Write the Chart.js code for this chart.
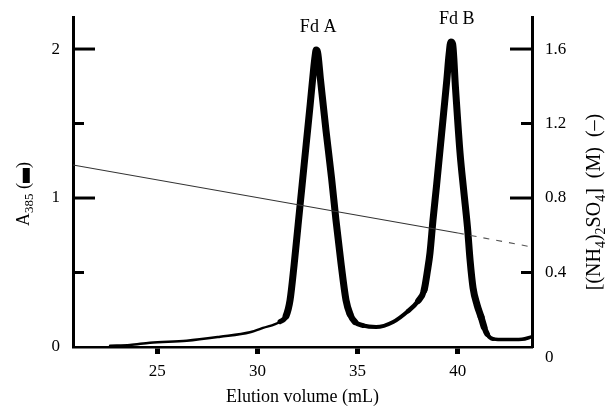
<!DOCTYPE html>
<html>
<head>
<meta charset="utf-8">
<script src="https://cdn.jsdelivr.net/npm/chart.js@4.4.1/dist/chart.umd.min.js"></script>
<style>
  html, body { margin: 0; padding: 0; background: #fff; }
  #wrap { width: 609px; height: 407px; position: relative; }
</style>
</head>
<body>
<div id="wrap"><canvas id="chart"></canvas></div>
<script>
// A385 elution profile
const elutionVolume = [22.65, 23.64, 24.64, 26.47, 28.14, 29.63, 30.28, 31.13, 31.43, 31.63,
    31.83, 32.03, 32.23, 32.43, 32.63, 32.80, 32.88, 32.93, 33.00, 33.15,
    33.42, 33.70, 33.92, 34.17, 34.42, 34.62, 34.87, 35.27, 35.92, 36.77,
    37.52, 38.02, 38.32, 38.49, 38.61, 38.76, 38.94, 39.11, 39.29, 39.45,
    39.56, 39.65, 39.74, 39.88, 40.11, 40.29, 40.48, 40.61, 40.76, 40.96,
    41.16, 41.31, 41.46, 41.76, 42.36, 43.20, 43.70];
const absorbance = [0.009, 0.013, 0.029, 0.042, 0.069, 0.099, 0.128, 0.170, 0.208, 0.315,
    0.550, 0.819, 1.087, 1.356, 1.624, 1.859, 1.953, 1.993, 1.980, 1.792,
    1.456, 1.134, 0.852, 0.564, 0.315, 0.221, 0.168, 0.144, 0.134, 0.168,
    0.242, 0.309, 0.383, 0.517, 0.631, 0.852, 1.087, 1.322, 1.570, 1.792,
    1.960, 2.047, 2.034, 1.745, 1.302, 1.054, 0.805, 0.584, 0.396, 0.282,
    0.201, 0.134, 0.087, 0.054, 0.050, 0.052, 0.069];

// (NH4)2SO4 gradient: measured part and extrapolated (dashed) part
const gradientVolume = [20.8, 40.0];
const gradientConc = [0.977, 0.612];
const gradientTailVolume = [40.0, 43.7];
const gradientTailConc = [0.612, 0.537];

// peaks
const peakNames = ['Fd A', 'Fd B'];
const peakVolume = [32.93, 39.65];
const peakAbs = [1.993, 2.047];

// axes
const xTicks = [25, 30, 35, 40];
const leftLabels = [0, 1, 2];
const leftMajor = [1, 2];
const leftMinor = [0.5, 1.5];
const rightLabels = [0, 0.4, 0.8, 1.2, 1.6];
const rightMajor = [0.8, 1.6];
const rightMinor = [0.4, 1.2];

const FONT = '"Liberation Serif", "Times New Roman", serif';
Chart.defaults.color = '#000';
Chart.defaults.font.family = FONT;

const toXY = (xs, ys) => xs.map((v, i) => ({ x: v, y: ys[i] }));

// stroke gets heavier on the peaks (the original trace is denser there)
const widthStops = [[31.0, 2.5], [31.5, 7], [34.6, 7], [35.3, 4], [37.6, 4], [38.4, 7], [41.2, 7], [41.7, 3.5]];
function widthAt(v) {
    if (v <= widthStops[0][0]) return widthStops[0][1];
    for (let i = 1; i < widthStops.length; i++) {
        const [x1, w1] = widthStops[i];
        const [x0, w0] = widthStops[i - 1];
        if (v <= x1) return w0 + (w1 - w0) * (v - x0) / (x1 - x0);
    }
    return widthStops[widthStops.length - 1][1];
}
const profileWidth = ctx => widthAt((ctx.p0.parsed.x + ctx.p1.parsed.x) / 2);

// draw rotated text with subscripts (reads bottom to top)
function drawRich(ctx, runs, cx, cy, size) {
    const subSize = Math.round(size * 0.72);
    ctx.save();
    ctx.translate(cx, cy);
    ctx.rotate(-Math.PI / 2);
    ctx.textAlign = 'left';
    ctx.textBaseline = 'alphabetic';
    ctx.fillStyle = '#000';
    const widths = runs.map(r => {
        if (r.box) return r.box[0];
        ctx.font = `${r.sub ? subSize : size}px ${FONT}`;
        return ctx.measureText(r.t).width;
    });
    const total = widths.reduce((a, b) => a + b, 0);
    const base = size * 0.32;
    let x = -total / 2;
    runs.forEach((r, i) => {
        if (r.box) {
            ctx.fillRect(x, base - r.box[1] + 1, r.box[0], r.box[1]);
        } else {
            ctx.font = `${r.sub ? subSize : size}px ${FONT}`;
            ctx.fillText(r.t, x, r.sub ? base + size * 0.22 : base);
        }
        x += widths[i];
    });
    ctx.restore();
}

const decorations = {
    id: 'decorations',
    afterDraw(chart) {
        const { ctx, chartArea, scales } = chart;
        const { x, y, y2 } = scales;
        ctx.save();
        ctx.strokeStyle = '#000';
        ctx.lineWidth = 3;
        const inward = (scale, vals, len, fromRight) => {
            vals.forEach(v => {
                const py = scale.getPixelForValue(v);
                const x0 = fromRight ? chartArea.right : chartArea.left;
                ctx.beginPath();
                ctx.moveTo(x0, py);
                ctx.lineTo(fromRight ? x0 - len : x0 + len, py);
                ctx.stroke();
            });
        };
        inward(y, leftMajor, 22, false);
        inward(y, leftMinor, 11, false);
        inward(y2, rightMajor, 22, true);
        inward(y2, rightMinor, 11, true);

        // peak names above each apex
        ctx.fillStyle = '#000';
        ctx.font = `18px ${FONT}`;
        ctx.textAlign = 'center';
        ctx.textBaseline = 'middle';
        peakNames.forEach((name, i) => {
            const px = x.getPixelForValue(peakVolume[i]);
            const py = y.getPixelForValue(peakAbs[i]);
            ctx.fillText(name, px + (i === 0 ? 2 : 6), py - 23);
        });
        ctx.restore();

        const midY = (chartArea.top + chartArea.bottom) / 2;
        drawRich(ctx, [
            { t: 'A' }, { t: '385', sub: true }, { t: ' (' }, { box: [15, 7] }, { t: ')' }
        ], chartArea.left - 50, midY + 12, 18);
        drawRich(ctx, [
            { t: '[(NH' }, { t: '4', sub: true }, { t: ')' }, { t: '2', sub: true },
            { t: 'SO' }, { t: '4', sub: true }, { t: ']  (M)  (\u2013)' }
        ], chartArea.right + 62, midY + 20, 20);
    }
};

const tickFont = { size: 17, family: FONT };

// fixed axis boxes so the plot area sits where the original's does
const fixWidth = w => s => { s.width = w; s.paddingTop = 0; s.paddingBottom = 0; };

new Chart(document.getElementById('chart'), {
    type: 'line',
    data: {
        datasets: [
            {
                data: toXY(gradientVolume, gradientConc),
                yAxisID: 'y2',
                borderColor: '#333',
                borderWidth: 1.1,
                pointRadius: 0
            },
            {
                data: toXY(gradientTailVolume, gradientTailConc),
                yAxisID: 'y2',
                borderColor: '#555',
                borderWidth: 1.1,
                borderDash: [6, 7],
                pointRadius: 0
            },
            {
                data: toXY(elutionVolume, absorbance),
                yAxisID: 'y',
                borderColor: '#000',
                borderWidth: 3,
                cubicInterpolationMode: 'monotone',
                borderCapStyle: 'round',
                borderJoinStyle: 'round',
                pointRadius: 0,
                segment: { borderWidth: profileWidth }
            }
        ]
    },
    options: {
        responsive: true,
        maintainAspectRatio: false,
        animation: false,
        layout: { padding: { top: 17, left: 0, right: 0, bottom: 0 } },
        plugins: { legend: { display: false }, tooltip: { enabled: false } },
        scales: {
            x: {
                type: 'linear',
                position: 'bottom',
                min: 20.8,
                max: 43.7,
                afterBuildTicks: s => { s.ticks = xTicks.map(v => ({ value: v })); },
                afterFit: s => { s.height = 60; s.paddingLeft = 0; s.paddingRight = 0; },
                ticks: { font: tickFont, padding: 7, maxRotation: 0 },
                grid: { drawOnChartArea: false, tickLength: 7, tickWidth: 5, tickColor: '#000' },
                border: { display: true, width: 2.5, color: '#000' },
                title: {
                    display: true,
                    text: 'Elution volume (mL)',
                    font: { size: 18, family: FONT },
                    padding: { top: 0, bottom: -1 }
                }
            },
            y: {
                position: 'left',
                min: 0,
                max: 2.215,
                afterBuildTicks: s => { s.ticks = leftLabels.map(v => ({ value: v })); },
                afterFit: fixWidth(73),
                ticks: { font: tickFont, padding: 13 },
                grid: { drawOnChartArea: false, drawTicks: false },
                border: { display: true, width: 3, color: '#000' }
            },
            y2: {
                position: 'right',
                min: 0,
                max: 1.772,
                afterBuildTicks: s => { s.ticks = rightLabels.map(v => ({ value: v })); },
                afterFit: fixWidth(77),
                ticks: {
                    font: tickFont,
                    padding: 13,
                    callback: v => v === 0 ? ['', '0'] : v.toFixed(1)
                },
                grid: { drawOnChartArea: false, drawTicks: false },
                border: { display: true, width: 3, color: '#000' }
            }
        }
    },
    plugins: [decorations]
});
</script>
</body>
</html>
